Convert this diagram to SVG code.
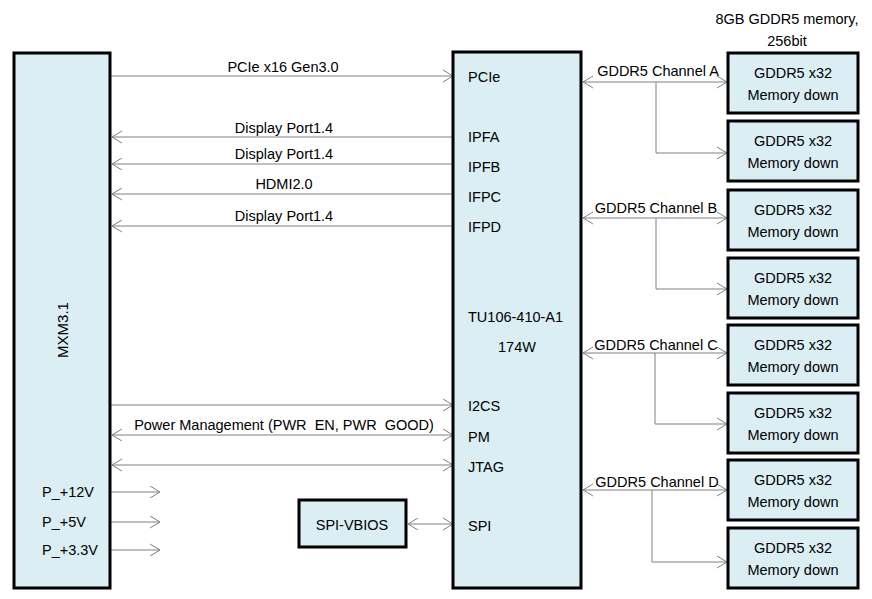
<svg xmlns="http://www.w3.org/2000/svg" width="872" height="599" viewBox="0 0 872 599">
<style>
  text { font-family: "Liberation Sans", Arial, sans-serif; font-size: 14.5px; fill: #000; }
  .c { text-anchor: middle; }
  .box { fill: #DAEEF3; stroke: #000; stroke-width: 3; }
  .ln { stroke: #808080; stroke-width: 1; fill: none; }
</style>
<defs>
  <marker id="ah" markerUnits="userSpaceOnUse" markerWidth="12" markerHeight="14" refX="10" refY="6" orient="auto-start-reverse" overflow="visible">
    <path d="M0,0 L10,6 L0,12" fill="none" stroke="#808080" stroke-width="1"/>
  </marker>
</defs>
<rect width="872" height="599" fill="#fff"/>

<g id="connectors">
  <line class="ln" x1="111" y1="76" x2="453" y2="76" marker-end="url(#ah)"/>
  <line class="ln" x1="453" y1="137" x2="112" y2="137" marker-end="url(#ah)"/>
  <line class="ln" x1="453" y1="164" x2="112" y2="164" marker-end="url(#ah)"/>
  <line class="ln" x1="453" y1="194" x2="112" y2="194" marker-end="url(#ah)"/>
  <line class="ln" x1="453" y1="226" x2="112" y2="226" marker-end="url(#ah)"/>
  <line class="ln" x1="111" y1="405" x2="453" y2="405" marker-end="url(#ah)"/>
  <line class="ln" x1="112" y1="435" x2="453" y2="435" marker-start="url(#ah)" marker-end="url(#ah)"/>
  <line class="ln" x1="112" y1="465" x2="453" y2="465" marker-start="url(#ah)" marker-end="url(#ah)"/>
  <line class="ln" x1="111" y1="492" x2="160" y2="492" marker-end="url(#ah)"/>
  <line class="ln" x1="111" y1="522" x2="160" y2="522" marker-end="url(#ah)"/>
  <line class="ln" x1="111" y1="550" x2="160" y2="550" marker-end="url(#ah)"/>
  <line class="ln" x1="408" y1="524" x2="453" y2="524" marker-start="url(#ah)" marker-end="url(#ah)"/>
  <line class="ln" x1="583" y1="82" x2="727" y2="82" marker-start="url(#ah)" marker-end="url(#ah)"/>
  <polyline class="ln" points="656,82 656,153 727,153" marker-end="url(#ah)"/>
  <line class="ln" x1="583" y1="218" x2="727" y2="218" marker-start="url(#ah)" marker-end="url(#ah)"/>
  <polyline class="ln" points="656,218 656,289 727,289" marker-end="url(#ah)"/>
  <line class="ln" x1="583" y1="353" x2="727" y2="353" marker-start="url(#ah)" marker-end="url(#ah)"/>
  <polyline class="ln" points="655,353 655,424 727,424" marker-end="url(#ah)"/>
  <line class="ln" x1="583" y1="490" x2="727" y2="490" marker-start="url(#ah)" marker-end="url(#ah)"/>
  <polyline class="ln" points="652,490 652,562 727,562" marker-end="url(#ah)"/>

  <text class="c" x="283" y="72">PCIe x16 Gen3.0</text>
  <text class="c" x="284" y="133">Display Port1.4</text>
  <text class="c" x="284" y="159">Display Port1.4</text>
  <text class="c" x="284" y="189">HDMI2.0</text>
  <text class="c" x="284" y="221">Display Port1.4</text>
  <text class="c" x="284" y="430">Power Management (PWR&#160; EN, PWR&#160; GOOD)</text>
  <text class="c" x="658" y="76">GDDR5 Channel A</text>
  <text class="c" x="656" y="213">GDDR5 Channel B</text>
  <text class="c" x="656" y="350">GDDR5 Channel C</text>
  <text class="c" x="657" y="487">GDDR5 Channel D</text>
</g>

<g id="mxm">
  <rect class="box" x="14" y="53" width="96" height="535"/>
  <text class="c" transform="translate(68,330) rotate(-90)" style="font-size:15px">MXM3.1</text>
  <text x="42" y="497">P_+12V</text>
  <text x="42" y="527">P_+5V</text>
  <text x="42" y="555">P_+3.3V</text>
</g>

<g id="gpu">
  <rect class="box" x="453" y="52" width="128" height="536"/>
  <text x="468" y="82">PCIe</text>
  <text x="468" y="142">IPFA</text>
  <text x="468" y="172">IPFB</text>
  <text x="468" y="202">IFPC</text>
  <text x="468" y="232">IFPD</text>
  <text x="468" y="322">TU106-410-A1</text>
  <text class="c" x="517" y="352">174W</text>
  <text x="468" y="411">I2CS</text>
  <text x="468" y="442">PM</text>
  <text x="468" y="472">JTAG</text>
  <text x="468" y="531">SPI</text>
</g>

<g id="spi-vbios">
  <rect class="box" x="299" y="500" width="107" height="47"/>
  <text class="c" x="352" y="530">SPI-VBIOS</text>
</g>

<g id="memory-title">
  <text class="c" x="787" y="24">8GB GDDR5 memory,</text>
  <text class="c" x="787" y="46">256bit</text>
</g>

<g id="mem1"><rect class="box" x="728" y="53" width="130" height="60"/><text class="c" x="793" y="78">GDDR5 x32</text><text class="c" x="793" y="100">Memory down</text></g>
<g id="mem2"><rect class="box" x="728" y="121" width="130" height="60"/><text class="c" x="793" y="146">GDDR5 x32</text><text class="c" x="793" y="168">Memory down</text></g>
<g id="mem3"><rect class="box" x="728" y="190" width="130" height="60"/><text class="c" x="793" y="215">GDDR5 x32</text><text class="c" x="793" y="237">Memory down</text></g>
<g id="mem4"><rect class="box" x="728" y="258" width="130" height="60"/><text class="c" x="793" y="283">GDDR5 x32</text><text class="c" x="793" y="305">Memory down</text></g>
<g id="mem5"><rect class="box" x="728" y="325" width="130" height="60"/><text class="c" x="793" y="350">GDDR5 x32</text><text class="c" x="793" y="372">Memory down</text></g>
<g id="mem6"><rect class="box" x="728" y="393" width="130" height="60"/><text class="c" x="793" y="418">GDDR5 x32</text><text class="c" x="793" y="440">Memory down</text></g>
<g id="mem7"><rect class="box" x="728" y="460" width="130" height="60"/><text class="c" x="793" y="485">GDDR5 x32</text><text class="c" x="793" y="507">Memory down</text></g>
<g id="mem8"><rect class="box" x="728" y="528" width="130" height="60"/><text class="c" x="793" y="553">GDDR5 x32</text><text class="c" x="793" y="575">Memory down</text></g>
</svg>
